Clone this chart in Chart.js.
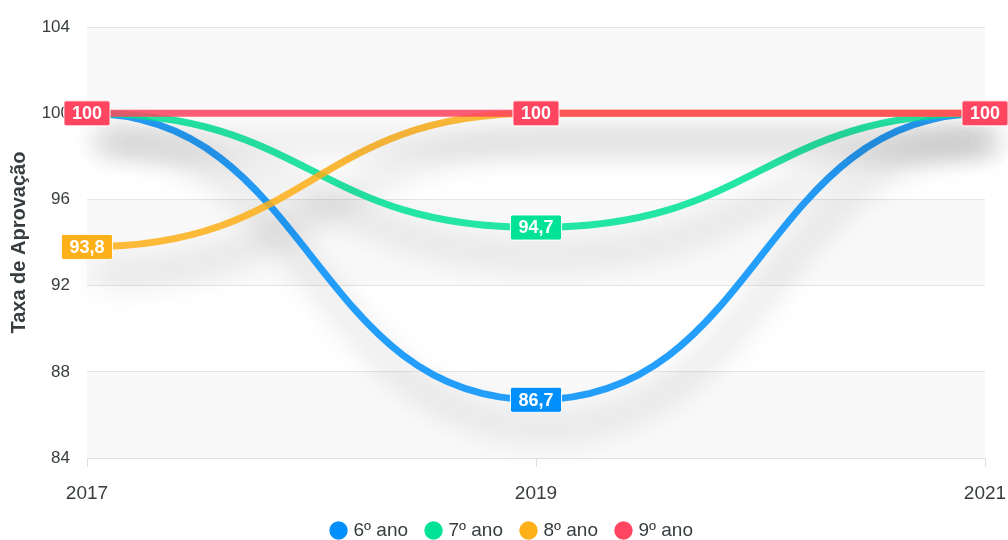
<!DOCTYPE html>
<html><head><meta charset="utf-8">
<script src="https://cdn.jsdelivr.net/npm/chart.js@4"></script>
<style>html,body{margin:0;padding:0;background:#fff;}#wrap{width:1008px;height:540px;position:relative;}</style>
</head><body><div id="wrap"><canvas id="c"></canvas></div>
<script>
const years = ['2017', '2019', '2021'];
const seriesNames = ['6º ano', '7º ano', '8º ano', '9º ano'];
const ano6 = [100, 86.7, 100];
const ano7 = [100, 94.7, 100];
const ano8 = [93.8, 100, 100];
const ano9 = [100, 100, 100];
const yMin = 84, yMax = 104, yStep = 4;
const seriesColors = ['#008FFB', '#00E396', '#FEB019', '#FF4560'];
const yTitle = 'Taxa de Aprovação';

const FONT = '"Liberation Sans", Arial, Helvetica, sans-serif';
Chart.defaults.font.family = FONT;
Chart.defaults.color = '#373d3f';

function alpha(hex, a) {
  const n = parseInt(hex.slice(1), 16);
  return `rgba(${(n >> 16) & 255},${(n >> 8) & 255},${n & 255},${a})`;
}

const allSeries = [ano6, ano7, ano8, ano9];
const datasets = allSeries.map((d, i) => ({
  label: seriesNames[i],
  data: d,
  borderColor: alpha(seriesColors[i], 0.86),
  backgroundColor: seriesColors[i],
  borderWidth: 7,
  pointRadius: 0,
  pointHoverRadius: 0,
  tension: 0.4,
  fill: false,
  clip: false,
  order: allSeries.length - i
}));

const bandPlugin = {
  id: 'bands',
  beforeDraw(chart) {
    const y = chart.scales.y, area = chart.chartArea, ctx = chart.ctx;
    const ticks = y.ticks.map(t => t.value).sort((a, b) => a - b);
    ctx.save();
    ctx.fillStyle = '#f9f9f9';
    for (let i = 0; i < ticks.length - 1; i++) {
      if (i % 2 === 0) {
        const y1 = y.getPixelForValue(ticks[i + 1]);
        const y2 = y.getPixelForValue(ticks[i]);
        ctx.fillRect(area.left, y1, area.right - area.left, y2 - y1);
      }
    }
    ctx.restore();
  }
};

const smoothShadowPlugin = {
  id: 'smoothShadow',
  beforeDatasetDraw(chart, args) {
    const meta = args.meta, line = meta.dataset, pts = meta.data;
    if (line && line.updateControlPoints) line.updateControlPoints(chart.chartArea, 'x');
    for (let i = 0; i < pts.length; i++) {
      const p = pts[i], prev = pts[i - 1], next = pts[i + 1];
      p.cp1x = prev ? p.x - (p.x - prev.x) * 0.5 : p.x;
      p.cp1y = p.y;
      p.cp2x = next ? p.x + (next.x - p.x) * 0.5 : p.x;
      p.cp2y = p.y;
    }
    if (line) line._path = undefined;
    const ctx = chart.ctx;
    ctx.save();
    ctx.shadowColor = 'rgba(0,0,0,0.36)';
    ctx.shadowBlur = 32;
    ctx.shadowOffsetX = 10;
    ctx.shadowOffsetY = 28;
  },
  afterDatasetDraw(chart) {
    chart.ctx.restore();
  }
};

const labelPlugin = {
  id: 'valueLabels',
  afterDatasetsDraw(chart) {
    const ctx = chart.ctx;
    const drawn = [];
    ctx.save();
    ctx.font = 'bold 18px ' + FONT;
    ctx.textAlign = 'center';
    ctx.textBaseline = 'middle';
    for (let d = chart.data.datasets.length - 1; d >= 0; d--) {
      const ds = chart.data.datasets[d];
      const meta = chart.getDatasetMeta(d);
      meta.data.forEach((pt, i) => {
        const txt = String(ds.data[i]).replace('.', ',');
        const w = ctx.measureText(txt).width + 16, h = 25;
        const b = {x: pt.x - w / 2, y: pt.y - h / 2, w, h};
        const hit = drawn.some(o => b.x < o.x + o.w && o.x < b.x + b.w && b.y < o.y + o.h && o.y < b.y + b.h);
        if (hit) return;
        drawn.push(b);
        ctx.beginPath();
        ctx.roundRect(b.x, b.y, w, h, 2);
        ctx.fillStyle = ds.backgroundColor;
        ctx.fill();
        ctx.lineWidth = 1;
        ctx.strokeStyle = 'rgba(255,255,255,0.9)';
        ctx.stroke();
        ctx.fillStyle = '#fff';
        ctx.fillText(txt, pt.x, pt.y + 1);
      });
    }
    ctx.restore();
  }
};

new Chart(document.getElementById('c'), {
  type: 'line',
  data: {labels: years, datasets},
  plugins: [bandPlugin, smoothShadowPlugin, labelPlugin],
  options: {
    responsive: true,
    maintainAspectRatio: false,
    animation: false,
    events: [],
    layout: {padding: {left: 18, right: 0, top: 25, bottom: -10}},
    plugins: {
      tooltip: {enabled: false},
      legend: {
        position: 'bottom',
        labels: {
          usePointStyle: true,
          pointStyle: 'circle',
          boxWidth: 11,
          boxHeight: 13,
          padding: 20,
          color: '#373d3f',
          font: {size: 19},
          sort: (a, b) => a.datasetIndex - b.datasetIndex,
          generateLabels(chart) {
            return Chart.defaults.plugins.legend.labels.generateLabels(chart).map(it => {
              it.fillStyle = seriesColors[it.datasetIndex];
              it.strokeStyle = seriesColors[it.datasetIndex];
              it.lineWidth = 0;
              return it;
            });
          }
        }
      }
    },
    scales: {
      x: {
        offset: false,
        grid: {drawOnChartArea: false, drawTicks: true, tickLength: 9, color: '#e0e0e0'},
        border: {display: true, color: '#e0e0e0'},
        ticks: {font: {size: 19}, color: '#373d3f', padding: 15, maxRotation: 0},
        afterFit(s) { s.height = 43; s.paddingRight = 23; }
      },
      y: {
        min: yMin,
        max: yMax,
        ticks: {stepSize: yStep, font: {size: 17}, color: '#373d3f', padding: 17},
        grid: {color: '#e6e6e6', drawTicks: false},
        border: {display: false},
        title: {display: true, text: yTitle, color: '#373d3f', font: {size: 20, weight: 'bold'}, padding: {top: -11, bottom: 0}},
        afterFit(s) { s.width = 69; }
      }
    }
  }
});
</script>
</body></html>
